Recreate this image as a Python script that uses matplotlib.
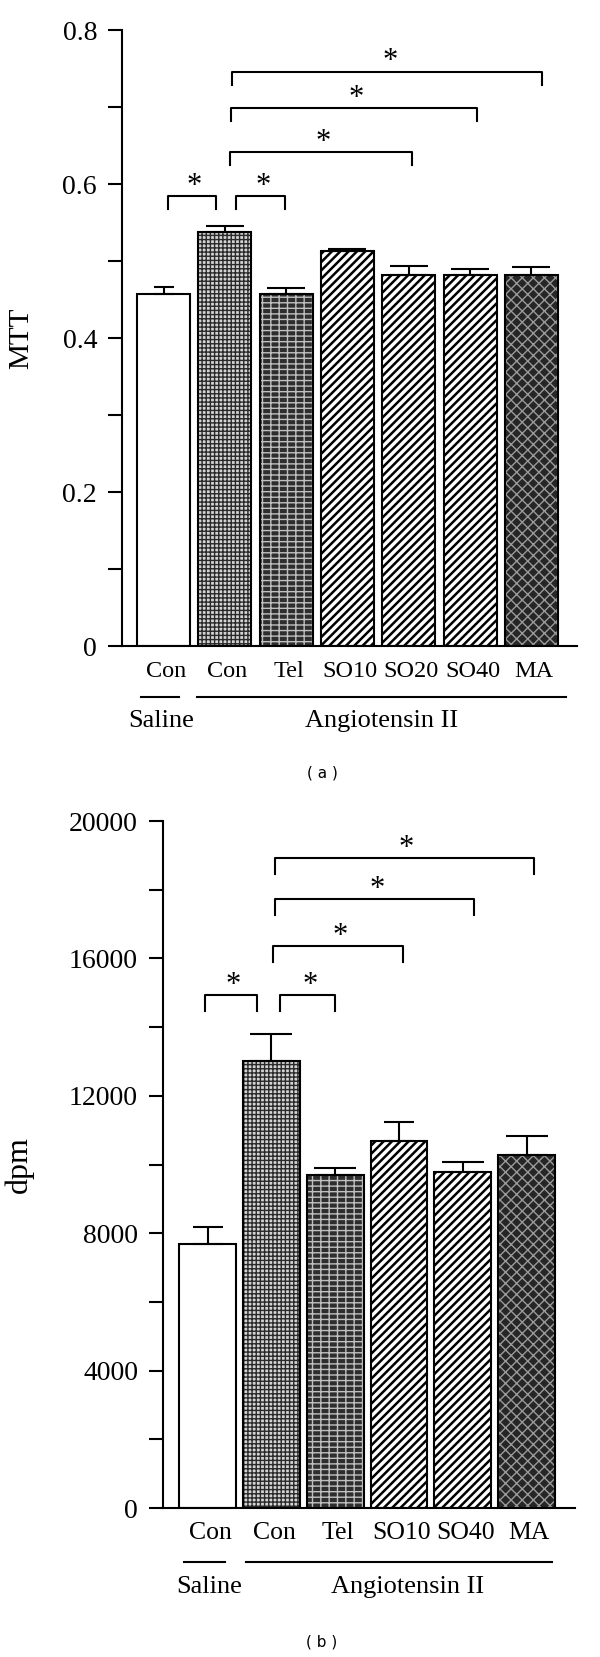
"""Recreate the two-panel MTT / dpm bar chart (panels a and b)."""

import matplotlib

matplotlib.use("Agg")
import matplotlib.pyplot as plt

# ---- panel (a): MTT -------------------------------------------------------
LABELS_A = ["Con", "Con", "Tel", "SO10", "SO20", "SO40", "MA"]
MTT_MEAN = [0.457, 0.538, 0.457, 0.513, 0.482, 0.482, 0.482]
MTT_ERR = [0.009, 0.008, 0.008, 0.003, 0.011, 0.008, 0.010]
# significance brackets: (x_left, x_right, height)
SIG_A = [(0.07, 0.85, 0.584), (1.18, 1.98, 0.584), (1.08, 4.05, 0.6415),
         (1.10, 5.12, 0.6985), (1.12, 6.18, 0.746)]

# ---- panel (b): dpm -------------------------------------------------------
LABELS_B = ["Con", "Con", "Tel", "SO10", "SO40", "MA"]
DPM_MEAN = [7680, 13000, 9690, 10690, 9770, 10270]
DPM_ERR = [500, 790, 210, 550, 310, 550]
SIG_B = [(-0.04, 0.77, 14924), (1.13, 1.99, 14924), (1.02, 3.06, 16349),
         (1.05, 4.18, 17724), (1.05, 5.11, 18928)]

# bar textures, one per treatment
STYLE = {
    "Saline": dict(face="white", hatch=None, hcol="black", hlw=1.0),
    "Con": dict(face="#d4d4d4", hatch="++++", hcol="#2a2a2a", hlw=1.0),
    "Tel": dict(face="#2e2e2e", hatch="---||", hcol="#c0c0c0", hlw=1.0),
    "SO": dict(face="white", hatch="////", hcol="black", hlw=1.8),
    "MA": dict(face="#262626", hatch="xxx", hcol="#9a9a9a", hlw=1.0),
}
KEYS_A = ["Saline", "Con", "Tel", "SO", "SO", "SO", "MA"]
KEYS_B = ["Saline", "Con", "Tel", "SO", "SO", "MA"]

plt.rcParams["font.family"] = ["Liberation Serif", "DejaVu Serif"]


def draw_bars(ax, means, errs, keys, width, caps):
    xs = list(range(len(means)))
    for x, m, k in zip(xs, means, keys):
        st = STYLE[k]
        with plt.rc_context({"hatch.linewidth": st["hlw"]}):
            ax.bar(x, m, width=width, color=st["face"], edgecolor=st["hcol"],
                   hatch=st["hatch"], linewidth=0, zorder=2)
        ax.bar(x, m, width=width, fill=False, edgecolor="black",
               linewidth=1.5, zorder=3)
    for x, m, e, c in zip(xs, means, errs, caps):
        ax.errorbar(x, m, yerr=[[0], [e]], fmt="none", ecolor="black",
                    elinewidth=1.5, capsize=c, capthick=1.5, zorder=4)


def draw_sig(ax, sig, leg):
    for x0, x1, h in sig:
        ax.plot([x0, x0, x1, x1], [h - leg, h, h, h - leg], color="black",
                linewidth=1.5, clip_on=False, zorder=5)
        ax.annotate("*", xy=((x0 + x1) / 2 + 0.04, h), xytext=(0, 1.5),
                    textcoords="offset points", ha="center", va="baseline",
                    fontsize=22)


def style_axes(ax, ylim, ticks, labels, ylabel, label_x, label_size):
    ax.set_ylim(*ylim)
    ax.set_yticks(ticks)
    ax.set_yticklabels(labels, fontsize=20)
    ax.tick_params(axis="y", direction="out", length=10, width=1.5, pad=8)
    ax.tick_params(axis="x", length=0, labelbottom=False)
    for s in ("top", "right"):
        ax.spines[s].set_visible(False)
    for s in ("left", "bottom"):
        ax.spines[s].set_linewidth(1.5)
    ax.set_ylabel(ylabel, fontsize=label_size)
    ax.yaxis.set_label_coords(label_x, 0.5)


def group_labels(ax, labels, cat_y, line_y, grp_y, saline, angio, sal_x, ang_x,
                 cat_size):
    tr = ax.get_xaxis_transform()
    for i, lab in enumerate(labels):
        ax.text(i + 0.04, cat_y, lab, transform=tr,
                ha="center", va="center", fontsize=cat_size)
    for x0, x1 in (saline, angio):
        ax.plot([x0, x1], [line_y, line_y], color="black", linewidth=1.5,
                transform=tr, clip_on=False)
    ax.text(sal_x, grp_y, "Saline", transform=tr,
            ha="center", va="center", fontsize=19)
    ax.text(ang_x, grp_y, "Angiotensin II", transform=tr,
            ha="center", va="center", fontsize=19)


fig = plt.figure(figsize=(6.0, 16.57), dpi=100)

# panel (a)
ax_a = fig.add_axes([122 / 600, 1 - 646 / 1657, 455 / 600, 616 / 1657])
draw_bars(ax_a, MTT_MEAN, MTT_ERR, KEYS_A, 0.865, [7, 14, 14, 13.5, 14, 14, 14])
draw_sig(ax_a, SIG_A, 0.017)
ax_a.set_xlim(-0.677, 6.745)
ticks_a = [i / 10 for i in range(9)]
style_axes(ax_a, (0, 0.8), ticks_a,
           ["0" if t == 0 else (f"{t:.1f}" if i % 2 == 0 else "")
            for i, t in enumerate(ticks_a)],
           "MTT", -0.193, 21)
group_labels(ax_a, LABELS_A, -0.0406, -0.0828, -0.1218,
             (-0.367, 0.253), (0.547, 6.566), -0.04, 3.55, 17.5)
fig.text(322 / 600, 1 - 773 / 1657, "( a )", family="DejaVu Sans",
         fontsize=11, ha="center", va="center")

# panel (b)
ax_b = fig.add_axes([163 / 600, 1 - 1508 / 1657, 412 / 600, 687 / 1657])
draw_bars(ax_b, DPM_MEAN, DPM_ERR, KEYS_B, 0.89, [11, 15, 15, 10.5, 15, 15])
draw_sig(ax_b, SIG_B, 457)
ax_b.set_xlim(-0.70, 5.76)
ticks_b = list(range(0, 20001, 2000))
style_axes(ax_b, (0, 20000), ticks_b,
           [str(t) if t % 4000 == 0 else "" for t in ticks_b],
           "dpm", -0.313, 23)
group_labels(ax_b, LABELS_B, -0.0364, -0.0786, -0.115,
             (-0.37, 0.27), (0.60, 5.40), 0.02, 3.14, 18.5)
fig.text(322 / 600, 1 - 1642 / 1657, "( b )", family="DejaVu Sans",
         fontsize=11, ha="center", va="center")

fig.savefig("out.png", dpi=100)
